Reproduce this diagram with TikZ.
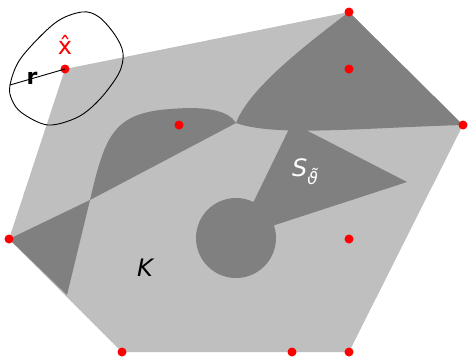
\documentclass[tikz,border=0pt]{standalone}
\usepackage{fontspec}
\setmainfont{DejaVu Sans}
\usetikzlibrary{positioning}
\definecolor{hullgrey}{gray}{0.75}
\definecolor{lumpgrey}{gray}{0.5}
\tikzset{
  vertex/.style={circle, fill=red, inner sep=0pt, minimum size=9pt},
  hull/.style={fill=hullgrey},
  lump/.style={fill=lumpgrey},
  biglabel/.style={font=\fontsize{24}{24}\selectfont\itshape, inner sep=0pt},
}

\begin{document}
\begin{tikzpicture}[x=1pt, y=-1pt]
  \useasboundingbox (0,0) rectangle (468,356);
  % the hull K
  \fill[hull] (65,69) -- (349,12) -- (463,125) -- (349,352) -- (122,352) -- (9,239) -- cycle;
  % dark pieces
  \fill[lump] (290,127) -- (300,127) -- (407,182) -- (272,226) -- (252,205) -- cycle;
  \fill[lump] (236,238) circle[radius=40];
  \fill[lump] (349,12) -- (463,125)
    .. controls (360,128) and (275,137) .. (236,123)
    .. controls (248,92) and (292,55) .. (349,12);
  \fill[lump] (90,200) .. controls (104,140) and (112,116) .. (160,110)
    .. controls (205,105) and (228,110) .. (236,123) -- cycle;
  \fill[lump] (9,239) -- (90,200) -- (67,295) -- cycle;
  % ball round x-hat
  \draw[line width=0.9pt] plot[smooth cycle, tension=0.55] coordinates {
    (10,85) (21,58) (55,23) (82,12) (99,17) (115,35) (123,53) (119,73)
    (100,99) (78,117) (48,125) (22,113) (12,100)};
  % points
  \node[vertex] (xhat) at (65,69) {};
  \node[vertex] (top) at (349,12) {};
  \node[vertex] (mid) at (349,69) {};
  \node[vertex] (east) at (463,125) {};
  \node[vertex] (lobe) at (179,125) {};
  \node[vertex] (inner) at (349,239) {};
  \node[vertex] (west) at (9,239) {};
  \node[vertex] (sw) at (122,352) {};
  \node[vertex] (south) at (292,352) {};
  \node[vertex] (se) at (349,352) {};
  \coordinate (rim) at (10,85);
  \draw[line width=0.9pt] (xhat.center) -- (rim);
  % labels
  \node[text=red, font=\fontsize{24}{24}\selectfont, inner sep=0pt] (xlab) at (65,45) {\^{x}};
  \node[font=\fontsize{22}{22}\selectfont\bfseries, inner sep=0pt] (rlab) at (32,78) {r};
  \node[biglabel, text=white] (slab) at (305,172)
    {S\raisebox{-8pt}{\fontsize{17}{17}\selectfont\rlap{\hspace{2pt}\raisebox{3pt}{˜}}ϑ}};
  \node[biglabel] (klab) at (145,268) {K};
\end{tikzpicture}
\end{document}
